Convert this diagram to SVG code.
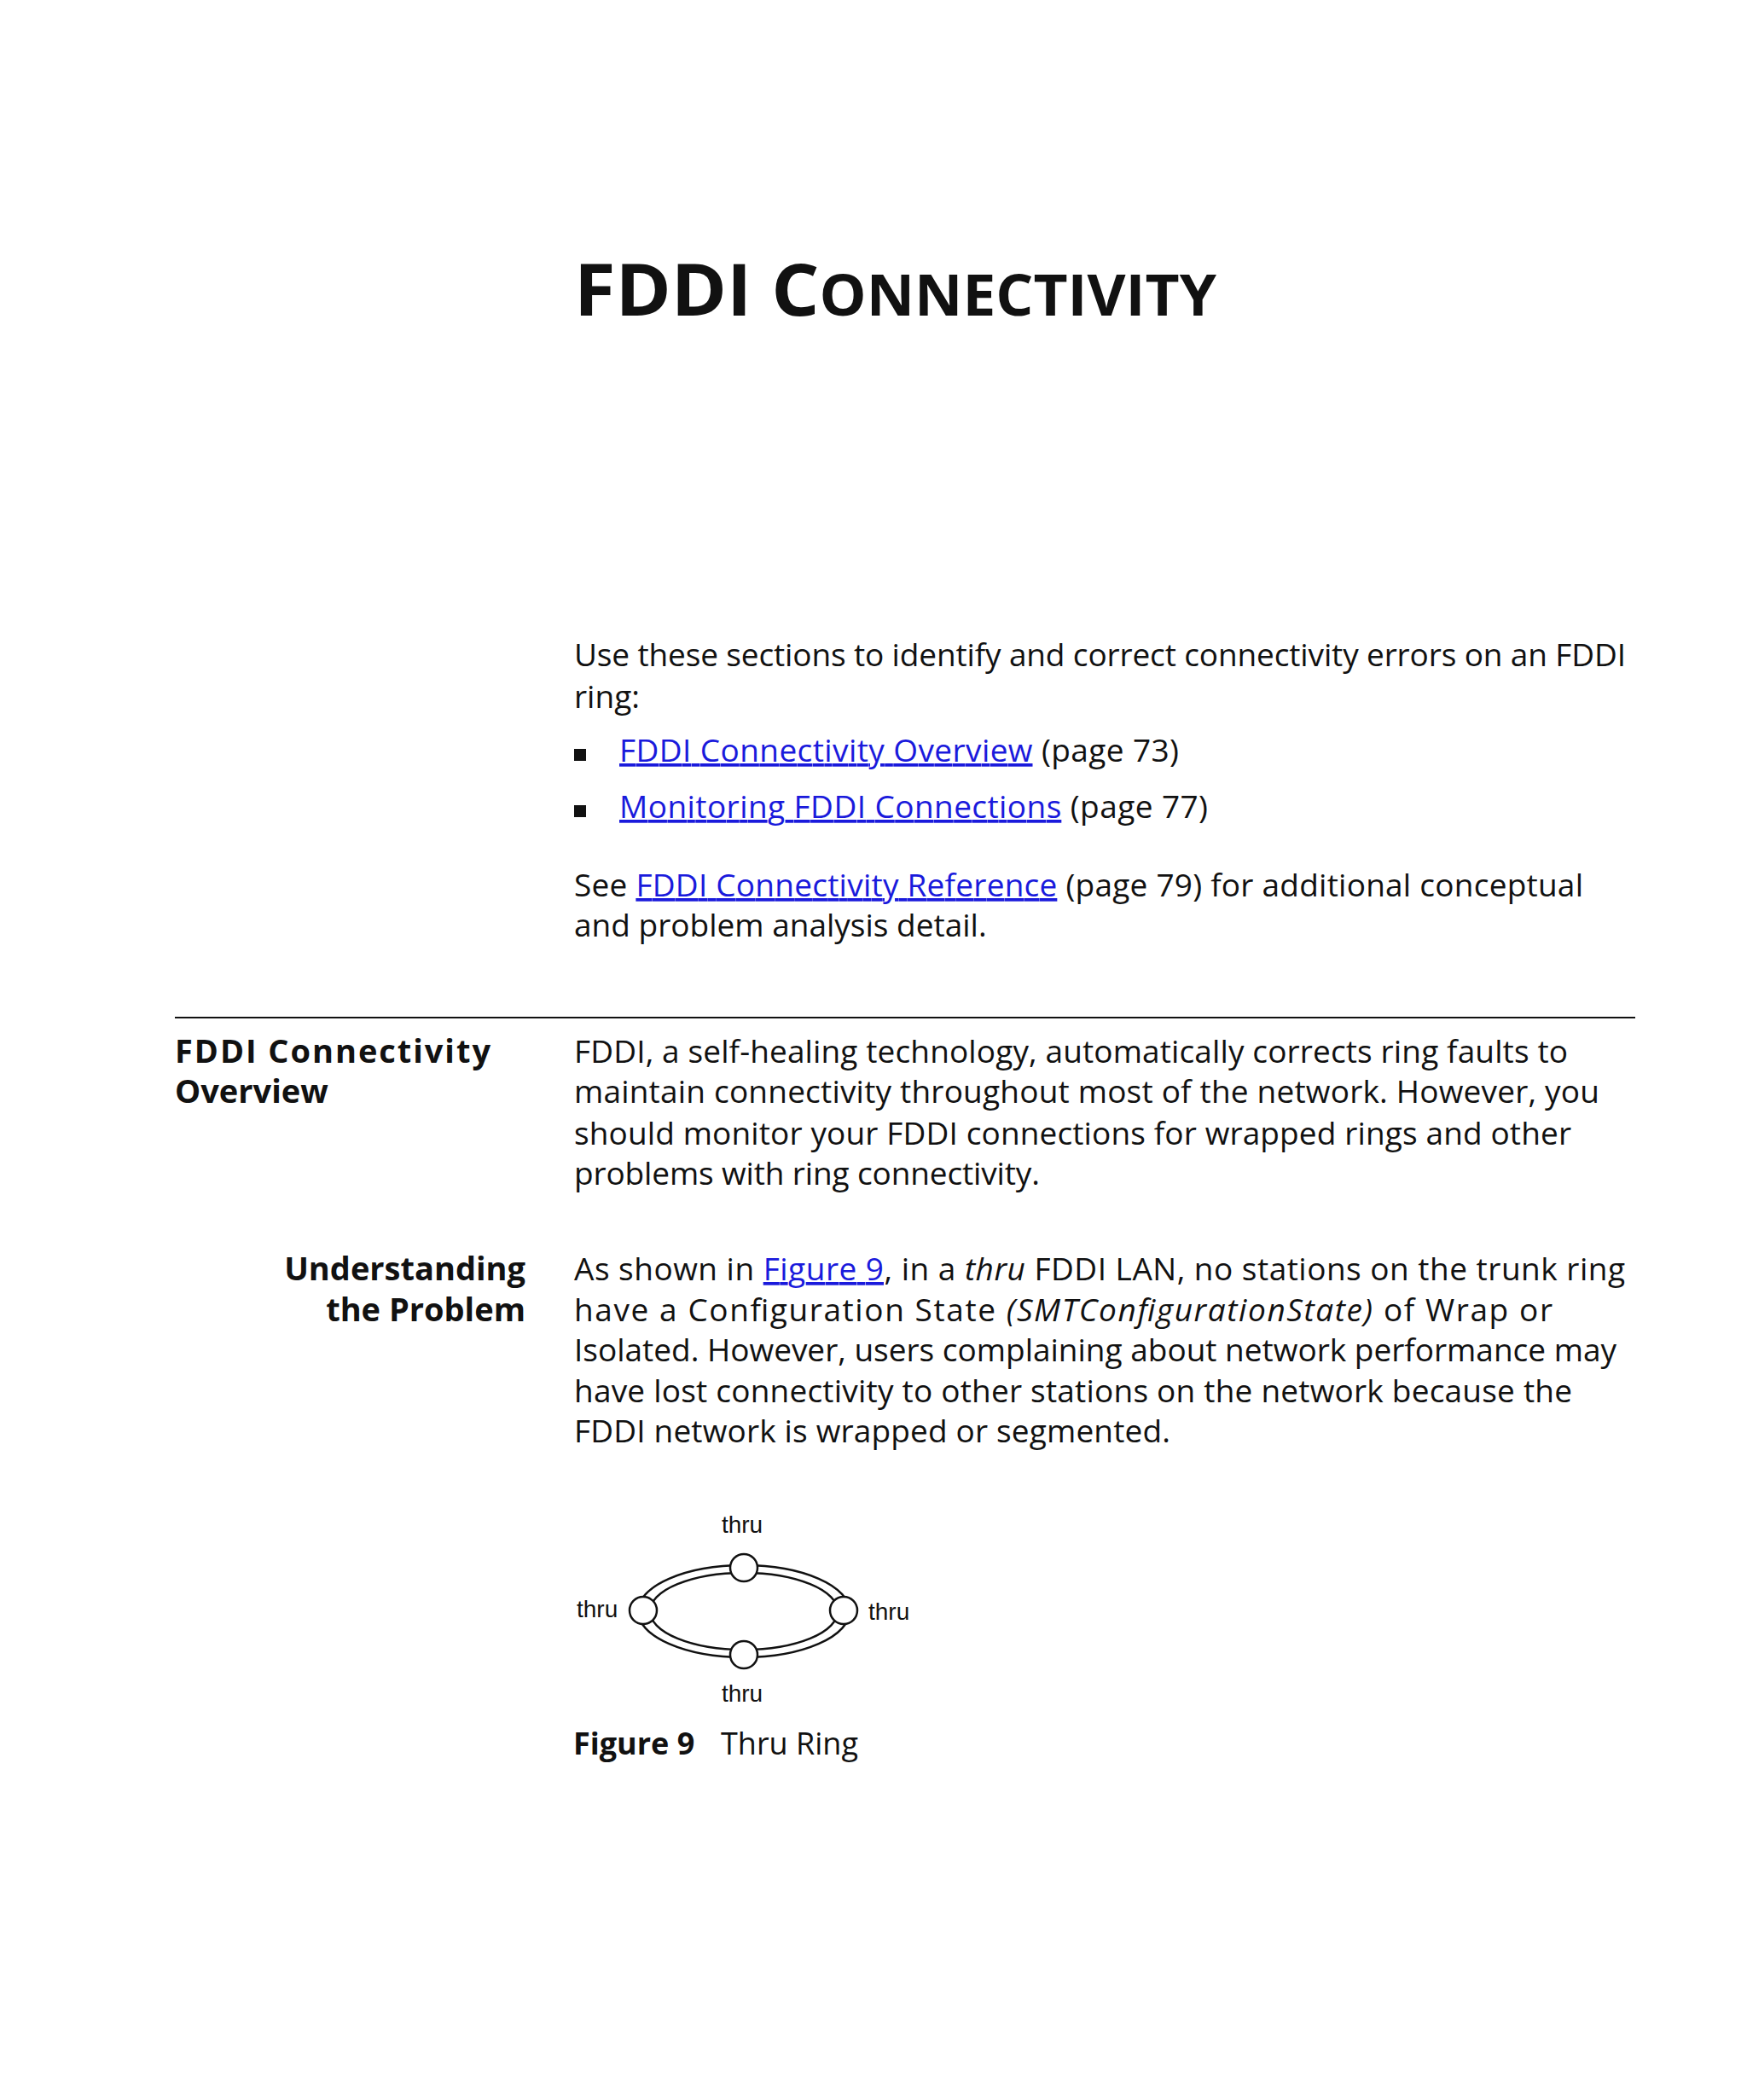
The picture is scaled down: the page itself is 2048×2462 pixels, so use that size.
<svg xmlns="http://www.w3.org/2000/svg" width="2048" height="2462" viewBox="0 0 2048 2462">
<style>
text{font-family:"Open Sans","Noto Sans",sans-serif;fill:#111}
.b{font-size:37px}
.h{font-size:38px;font-weight:bold}
.l{fill:#1a1adc;text-decoration:underline}
.f{font-family:"Liberation Sans",Arial,sans-serif;font-size:28px}
.n{fill:#fff;stroke:#111;stroke-width:2.5}
.e{fill:none;stroke:#111;stroke-width:2.5}
</style>
<rect width="2048" height="2462" fill="#fff"/>
<text x="673" y="370" font-weight="bold" textLength="753" lengthAdjust="spacingAndGlyphs"><tspan font-size="84">FDDI C</tspan><tspan font-size="66">ONNECTIVITY</tspan></text>
<g class="b">
<text x="673" y="781" textLength="1233" lengthAdjust="spacing">Use these sections to identify and correct connectivity errors on an FDDI</text>
<text x="673" y="830">ring:</text>
<rect x="673" y="878" width="14" height="14" fill="#111"/>
<text x="726" y="893" textLength="656" lengthAdjust="spacing"><tspan class="l">FDDI Connectivity Overview</tspan> (page 73)</text>
<rect x="673" y="944" width="14" height="14" fill="#111"/>
<text x="726" y="959" textLength="690" lengthAdjust="spacing"><tspan class="l">Monitoring FDDI Connections</tspan> (page 77)</text>
<text x="673" y="1051" textLength="1183" lengthAdjust="spacing">See <tspan class="l">FDDI Connectivity Reference</tspan> (page 79) for additional conceptual</text>
<text x="673" y="1098">and problem analysis detail.</text>
</g>
<line x1="205" y1="1193" x2="1917" y2="1193" stroke="#111" stroke-width="2"/>
<text class="h" x="205" y="1246" textLength="370" lengthAdjust="spacing">FDDI Connectivity</text>
<text class="h" x="205" y="1293">Overview</text>
<g class="b">
<text x="673" y="1246" textLength="1165" lengthAdjust="spacing">FDDI, a self-healing technology, automatically corrects ring faults to</text>
<text x="673" y="1293" textLength="1202" lengthAdjust="spacing">maintain connectivity throughout most of the network. However, you</text>
<text x="673" y="1342" textLength="1169" lengthAdjust="spacing">should monitor your FDDI connections for wrapped rings and other</text>
<text x="673" y="1389" textLength="546" lengthAdjust="spacing">problems with ring connectivity.</text>
</g>
<text class="h" x="616" y="1501" text-anchor="end">Understanding</text>
<text class="h" x="616" y="1549" text-anchor="end">the Problem</text>
<g class="b">
<text x="673" y="1501" textLength="1232" lengthAdjust="spacing">As shown in <tspan class="l">Figure 9</tspan>, in a <tspan font-style="italic">thru</tspan> FDDI LAN, no stations on the trunk ring</text>
<text x="673" y="1549" textLength="1147" lengthAdjust="spacing">have a Configuration State <tspan font-style="italic">(SMTConfigurationState)</tspan> of Wrap or</text>
<text x="673" y="1596" textLength="1222" lengthAdjust="spacing">Isolated. However, users complaining about network performance may</text>
<text x="673" y="1644" textLength="1170" lengthAdjust="spacing">have lost connectivity to other stations on the network because the</text>
<text x="673" y="1691" textLength="699" lengthAdjust="spacing">FDDI network is wrapped or segmented.</text>
</g>
<g id="connectors">
<ellipse class="e" cx="872" cy="1889" rx="124" ry="54"/>
<ellipse class="e" cx="872" cy="1889" rx="110" ry="45"/>
</g>
<g id="node-top"><circle class="n" cx="872" cy="1838" r="16"/><text class="f" x="870" y="1797" text-anchor="middle">thru</text></g>
<g id="node-left"><circle class="n" cx="754" cy="1888" r="16"/><text class="f" x="676" y="1896">thru</text></g>
<g id="node-right"><circle class="n" cx="989" cy="1888" r="16"/><text class="f" x="1018" y="1899">thru</text></g>
<g id="node-bottom"><circle class="n" cx="872" cy="1940" r="16"/><text class="f" x="870" y="1995" text-anchor="middle">thru</text></g>
<text x="672" y="2057" font-size="36" font-weight="bold">Figure 9</text>
<text x="845" y="2057" font-size="36">Thru Ring</text>
</svg>
